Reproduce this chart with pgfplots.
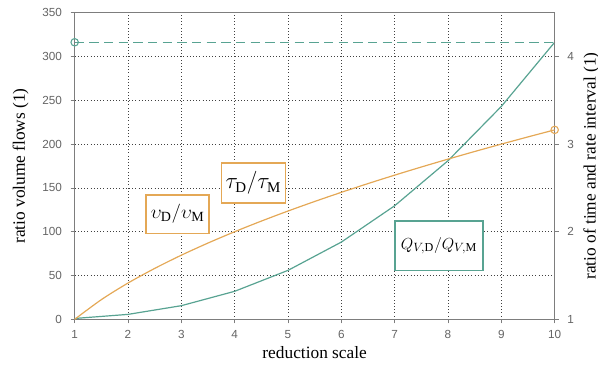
\documentclass[border=0pt]{standalone}
\usepackage{pgfplots}
\pgfplotsset{compat=1.18}
\usepackage{fontspec}
\setmainfont{Liberation Serif}
\newfontfamily\tickfont{Liberation Sans}
\definecolor{qgreen}{RGB}{88,163,146}
\definecolor{vorange}{RGB}{228,168,86}
\definecolor{framegray}{RGB}{125,125,125}
\definecolor{tickgray}{RGB}{100,100,100}
\begin{document}
\begin{tikzpicture}
\useasboundingbox (-56pt,-34.5pt) rectangle (392.5pt,239.5pt);
\pgfplotsset{
  common/.style={
    scale only axis, width=360pt, height=230pt,
    xmin=1, xmax=10,
    axis line style={framegray, line width=0.8pt},
    tick style={framegray, line width=0.6pt},
    tick align=outside,
    major tick length=3pt,
    ticklabel style={font=\tickfont\fontsize{8.8}{10}\selectfont, text=tickgray},
    /pgf/number format/assume math mode=true,
    label style={font=\fontsize{13}{15}\selectfont},
  }
}
\begin{axis}[common,
  ymin=0, ymax=350,
  axis y line*=left, axis x line*=bottom,
  xtick={1,...,10}, ytick={0,50,...,350},
  yticklabel style={xshift=-3pt},
  xticklabel style={yshift=-2pt},
  grid=major, grid style={black!75, dotted, line width=0.6pt},
  xlabel={reduction scale}, ylabel={ratio volume flows (1)},
  xlabel style={at={(axis description cs:0.5,0)}, anchor=north, yshift=-17pt},
  ylabel style={at={(axis description cs:0,0.5)}, anchor=south, yshift=31pt},
  clip=false,
]
\addplot[qgreen, line width=0.9pt] coordinates {
(1,1) (2,5.66) (3,15.59) (4,32) (5,55.9) (6,88.18) (7,129.64) (8,181.02) (9,243) (10,316.23)};
\addplot[qgreen, dashed, dash pattern=on 7pt off 4pt, line width=0.9pt] coordinates {(1,316.23) (10,316.23)};
\addplot[qgreen, only marks, mark=o, mark size=2.8pt, mark options={fill=white, line width=0.8pt}] coordinates {(1,316.23)};
\draw[framegray, line width=0.8pt] (axis cs:1,350) -- (axis cs:10,350);
\node[draw=vorange, line width=1.2pt, fill=white, minimum width=47pt, minimum height=29pt, inner sep=2pt, font=\fontsize{15}{17}\selectfont] at (axis cs:2.93,120) {$\upsilon_{\mathrm{D}}/\upsilon_{\mathrm{M}}$};
\node[draw=vorange, line width=1.2pt, fill=white, minimum width=48pt, minimum height=30pt, inner sep=2pt, font=\fontsize{16}{18}\selectfont] at (axis cs:4.35,155.5) {$\tau_{\mathrm{D}}/\tau_{\mathrm{M}}$};
\node[draw=qgreen, line width=1.2pt, fill=white, inner sep=3pt, minimum width=66pt, minimum height=37pt, font=\fontsize{13}{15}\selectfont] at (axis cs:7.83,84) {$Q_{V\!,\mathrm{D}}/Q_{V\!,\mathrm{M}}$};
\end{axis}
\begin{axis}[common,
  ymin=1, ymax=4.5,
  axis y line*=right, axis x line=none,
  ytick={1,2,3,4},
  yticklabel style={xshift=3pt},
  ylabel={ratio of time and rate interval (1)},
  ylabel style={at={(axis description cs:1,0.5)}, anchor=north, yshift=-18pt},
  clip=false,
]
\addplot[vorange, line width=0.9pt, smooth] coordinates {
(1,1) (1.5,1.2247) (2,1.4142) (2.5,1.5811) (3,1.7321) (3.5,1.8708) (4,2) (4.5,2.1213) (5,2.2361) (5.5,2.3452) (6,2.4495) (6.5,2.5495) (7,2.6458) (7.5,2.7386) (8,2.8284) (8.5,2.9155) (9,3) (9.5,3.0822) (10,3.1623)};
\addplot[vorange, only marks, mark=o, mark size=2.8pt, mark options={fill=white, line width=0.8pt}] coordinates {(10,3.1623)};
\end{axis}
\end{tikzpicture}
\end{document}
